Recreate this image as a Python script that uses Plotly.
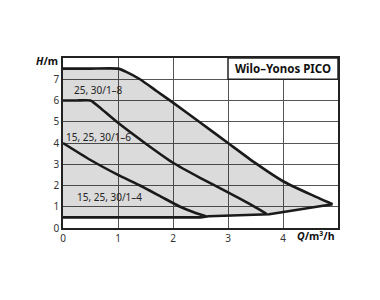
import plotly.graph_objects as go

# Pump curves (Q in m3/h, H in m)
q_max = [0.0, 0.5, 1.0, 1.15, 1.4, 1.7, 2.0, 2.5, 3.0, 3.5, 4.0, 4.5, 4.9]
h_max = [7.5, 7.5, 7.5, 7.35, 7.0, 6.45, 5.9, 4.95, 4.0, 3.05, 2.2, 1.58, 1.12]

q_6 = [0.0, 0.25, 0.5, 0.7, 1.0, 1.5, 2.0, 2.5, 3.0, 3.4, 3.7]
h_6 = [6.0, 6.0, 6.0, 5.6, 4.95, 3.98, 3.07, 2.35, 1.68, 1.12, 0.67]

q_4 = [0.0, 0.5, 1.0, 1.4, 1.8, 2.13, 2.4, 2.6]
h_4 = [4.0, 3.2, 2.5, 2.0, 1.45, 1.0, 0.72, 0.55]

q_min = [0.0, 2.5, 2.65, 3.75, 4.9]
h_min = [0.5, 0.5, 0.55, 0.65, 1.12]

x_ticks = [0, 1, 2, 3, 4]
y_ticks = [0, 1, 2, 3, 4, 5, 6, 7]

labels = ["25, 30/1–8", "15, 25, 30/1–6", "15, 25, 30/1–4"]
label_q = [0.65, 0.02, 0.84]
label_h = [6.48, 4.26, 1.48]
label_anchor = ["center", "left", "center"]

title_text = "Wilo–Yonos PICO"
box_q = [3, 5]
box_h = [7, 8]

FONT = "Noto Sans"
LINE = dict(color="#1a1a1a", width=2.6)

fig = go.Figure()

# gray operating area
fig.add_trace(go.Scatter(
    x=q_max + q_min[::-1], y=h_max + h_min[::-1],
    fill="toself", fillcolor="rgba(0,0,0,0.14)",
    line=dict(width=0, shape="spline", smoothing=0.5), mode="lines",
    hoverinfo="skip", showlegend=False))

for qs, hs, shp in [(q_max, h_max, "spline"), (q_6, h_6, "spline"),
                    (q_4, h_4, "spline"), (q_min, h_min, "linear")]:
    ln = dict(LINE, shape=shp)
    if shp == "spline":
        ln["smoothing"] = 0.5
    fig.add_trace(go.Scatter(x=qs, y=hs, mode="lines", line=ln,
                             showlegend=False, hoverinfo="skip"))

# title box
fig.add_shape(type="rect", x0=box_q[0], x1=box_q[1], y0=box_h[0], y1=box_h[1],
              xref="x", yref="y", fillcolor="white",
              line=dict(color="#222", width=1.5), layer="above")
fig.add_annotation(x=(box_q[0] + box_q[1]) / 2, y=(box_h[0] + box_h[1]) / 2,
                   text="<b>" + title_text + "</b>", showarrow=False,
                   font=dict(family=FONT, size=11.5, color="#111"))

for t, q, h, a in zip(labels, label_q, label_h, label_anchor):
    fig.add_annotation(x=q, y=h, text=t, showarrow=False, xanchor=a,
                       font=dict(family=FONT, size=10, color="#222"))

# axis titles
fig.add_annotation(x=0, y=7.84, xref="x", yref="y", text="<b><i>H</i>/m</b>",
                   showarrow=False, xanchor="right", xshift=-3,
                   font=dict(family=FONT, size=10.5, color="#111"))
fig.add_annotation(x=0.997, y=-0.047, xref="paper", yref="paper",
                   text="<b><i>Q</i>/m³/h</b>",
                   showarrow=False, xanchor="right", yanchor="middle",
                   font=dict(family=FONT, size=10.5, color="#111"))

fig.update_layout(
    width=380, height=300,
    margin=dict(l=63, r=42, t=58, b=72),
    paper_bgcolor="white", plot_bgcolor="white",
    font=dict(family=FONT, size=10, color="#333"),
)
fig.update_xaxes(range=[0, 5], tickvals=x_ticks, showgrid=True,
                 gridcolor="#555", gridwidth=1, zeroline=False,
                 showline=True, linecolor="#222", linewidth=1.5, mirror=True,
                 ticks="", fixedrange=True)
fig.update_yaxes(range=[0, 8], tickvals=y_ticks, showgrid=True,
                 gridcolor="#555", gridwidth=1, zeroline=False,
                 showline=True, linecolor="#222", linewidth=1.5, mirror=True,
                 ticks="", fixedrange=True)

fig.write_html("out.html", config={"displayModeBar": False})
